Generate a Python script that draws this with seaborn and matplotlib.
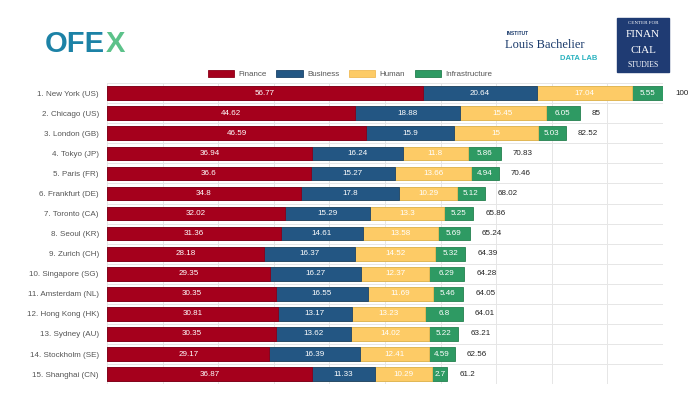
import numpy as np
import pandas as pd
import matplotlib
matplotlib.use("Agg")
import matplotlib.pyplot as plt
import seaborn as sns

# chart data
cities = ["1. New York (US)", "2. Chicago (US)", "3. London (GB)", "4. Tokyo (JP)",
          "5. Paris (FR)", "6. Frankfurt (DE)", "7. Toronto (CA)", "8. Seoul (KR)",
          "9. Zurich (CH)", "10. Singapore (SG)", "11. Amsterdam (NL)",
          "12. Hong Kong (HK)", "13. Sydney (AU)", "14. Stockholm (SE)",
          "15. Shanghai (CN)"]
finance = [56.77, 44.62, 46.59, 36.94, 36.6, 34.8, 32.02, 31.36, 28.18, 29.35,
           30.35, 30.81, 30.35, 29.17, 36.87]
business = [20.64, 18.88, 15.9, 16.24, 15.27, 17.8, 15.29, 14.61, 16.37, 16.27,
            16.55, 13.17, 13.62, 16.39, 11.33]
human = [17.04, 15.45, 15, 11.8, 13.66, 10.29, 13.3, 13.58, 14.52, 12.37,
         11.69, 13.23, 14.02, 12.41, 10.29]
infra = [5.55, 6.05, 5.03, 5.86, 4.94, 5.12, 5.25, 5.69, 5.32, 6.29,
         5.46, 6.8, 5.22, 4.59, 2.7]
totals = [100, 85, 82.52, 70.83, 70.46, 68.02, 65.86, 65.24, 64.39, 64.28,
          64.05, 64.01, 63.21, 62.56, 61.2]

series = ["Finance", "Business", "Human", "Infrastructure"]
colors = ["#A5001C", "#235683", "#FDCB66", "#2E9A63"]
edges = ["#8a0017", "#1b4469", "#f0bb55", "#24804f"]

plt.rcParams["font.family"] = ["Liberation Sans", "DejaVu Sans"]

df = pd.DataFrame({"city": cities, "Finance": finance, "Business": business,
                   "Human": human, "Infrastructure": infra})
cum = df[series].cumsum(axis=1)

fig = plt.figure(figsize=(7, 3.94), dpi=100)
ax = fig.add_axes([0.153, 0.025, 0.794, 0.764])

# stacked bars: draw the outermost cumulative layer first
for i in range(len(series) - 1, -1, -1):
    sns.barplot(x=cum[series[i]], y=df["city"], orient="h", color=colors[i],
                edgecolor=edges[i], linewidth=0.6, width=0.68, ax=ax,
                saturation=1, zorder=2)

# value labels inside segments + totals
for r in range(len(cities)):
    left = 0
    for s in series:
        v = df.loc[r, s]
        ax.text(left + v / 2, r, f"{v:g}", color="white", fontsize=5.8,
                ha="center", va="center", zorder=3)
        left += v
    ax.text(left + 2.2, r, f"{totals[r]:g}", color="#222222", fontsize=5.8,
            ha="left", va="center", clip_on=False, zorder=3)

ax.set_xlim(0, 100)
ax.set_ylim(len(cities) - 0.5, -0.5)
ax.set_xticks(np.arange(0, 101, 10))
ax.set_xticklabels([])
ax.set_yticks(np.arange(-0.5, len(cities), 1), minor=True)
ax.grid(axis="x", color="#e6e6e6", linewidth=0.7, zorder=0)
ax.grid(axis="y", which="minor", color="#e6e6e6", linewidth=0.7, zorder=0)
ax.grid(axis="y", which="major", visible=False)
ax.set_axisbelow(True)
ax.tick_params(axis="both", which="both", length=0)
ax.tick_params(axis="y", labelsize=5.8, labelcolor="#555555", pad=6)
ax.set_xlabel("")
ax.set_ylabel("")
for sp in ax.spines.values():
    sp.set_visible(False)

# legend
handles = [plt.Rectangle((0, 0), 1, 1, facecolor=c, edgecolor=e, linewidth=0.6)
           for c, e in zip(colors, edges)]
fig.legend(handles, series, loc="center", bbox_to_anchor=(0.5, 0.812), ncol=4,
           frameon=False, fontsize=5.8, handlelength=3.3, handleheight=0.9,
           columnspacing=1.2, handletextpad=0.5, labelcolor="#555555")

# header logos as text
fig.text(0.064, 0.888, "OFE", fontsize=21, fontweight="bold", color="#1C82A6",
         ha="left", va="center")
fig.text(0.151, 0.888, "X", fontsize=21, fontweight="bold", color="#5CC28A",
         ha="left", va="center")
fig.text(0.724, 0.915, "INSTITUT", fontsize=3.5, color="#1a3a6b", fontweight="bold",
         ha="left", va="center")
fig.text(0.721, 0.886, "Louis Bachelier", fontsize=9, color="#1a3a6b",
         family="Liberation Serif", ha="left", va="center")
fig.text(0.853, 0.852, "DATA LAB", fontsize=5.5, color="#2BB3C0", fontweight="bold",
         ha="right", va="center")
fig.patches.append(plt.Rectangle((0.882, 0.817), 0.073, 0.138,
                                 transform=fig.transFigure, facecolor="#1F3B73",
                                 edgecolor="#1F3B73"))
for y, t, fs in [(0.942, "CENTER FOR", 3.6), (0.912, "FINAN", 8),
                 (0.873, "CIAL", 8), (0.835, "STUDIES", 5.5)]:
    fig.text(0.9185, y, t, fontsize=fs, color="white", family="Liberation Serif",
             ha="center", va="center")

fig.savefig("out.png", dpi=100)
